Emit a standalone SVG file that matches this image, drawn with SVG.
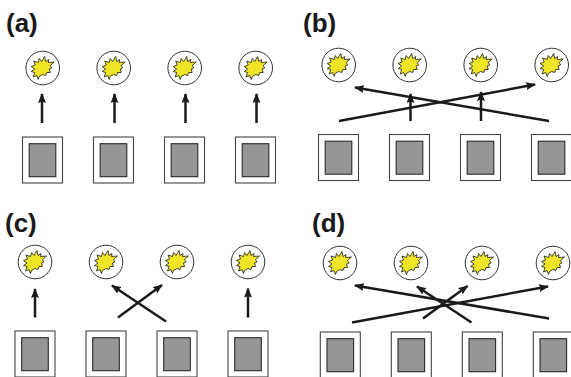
<svg xmlns="http://www.w3.org/2000/svg" xmlns:xlink="http://www.w3.org/1999/xlink" width="571" height="377" viewBox="0 0 571 377">
<style>
.lbl{font-family:"Liberation Sans",Arial,sans-serif;font-weight:bold;font-size:26px;fill:#1a1a1a}
.ring{fill:#fff;stroke:#333;stroke-width:1}
.star{fill:#efe426;stroke:#1a1a1a;stroke-width:.8;stroke-linejoin:miter}
.outer{fill:#fff;stroke:#444;stroke-width:1.1}
.inner{fill:#969696;stroke:#2a2a2a;stroke-width:1.1}
.c line{stroke:#1a1a1a;stroke-width:2.5;marker-end:url(#ah)}
</style>
<defs>
<marker id="ah" viewBox="0 0 10 8" refX="9" refY="4" markerUnits="userSpaceOnUse" markerWidth="10" markerHeight="8" orient="auto"><path d="M0 0L10 4L0 8L1.5 4Z" fill="#1a1a1a"/></marker>
<g id="bulb"><circle class="ring" r="16.8"/><path class="star" d="M-11.5 -1.5L-7.5 -3L-9 -7L-4.5 -5.5L-3.5 -9.5L-1 -6.5L2 -11.5L3 -6.5L6 -8.5L5.5 -5.5L11.5 -6L7.5 -2.5L9 0L6.5 1L7.5 4.5L4 4.5L3 7.5L0 6.5L-3.5 8.5L-4.5 11.5L-6 7.5L-9.5 9L-8 4.5L-11.5 3.5L-8 1Z"/></g>
<g id="box"><rect class="outer" x="-20" y="0" width="40" height="46"/><rect class="inner" x="-13.3" y="6.7" width="26.6" height="33"/></g>
</defs>
<g id="labels">
<text class="lbl" x="6" y="32">(a)</text>
<text class="lbl" x="303" y="32">(b)</text>
<text class="lbl" x="5" y="232">(c)</text>
<text class="lbl" x="312" y="232">(d)</text>
</g>
<g id="a1"><use xlink:href="#bulb" href="#bulb" x="42.7" y="68"/><use xlink:href="#box" href="#box" x="42.5" y="137"/></g>
<g id="a2"><use xlink:href="#bulb" href="#bulb" x="113.7" y="68"/><use xlink:href="#box" href="#box" x="113.5" y="137"/></g>
<g id="a3"><use xlink:href="#bulb" href="#bulb" x="184.7" y="68"/><use xlink:href="#box" href="#box" x="184.5" y="137"/></g>
<g id="a4"><use xlink:href="#bulb" href="#bulb" x="255.7" y="68"/><use xlink:href="#box" href="#box" x="255.5" y="137"/></g>
<g id="b1"><use xlink:href="#bulb" href="#bulb" x="338.7" y="65"/><use xlink:href="#box" href="#box" x="338.5" y="134.5"/></g>
<g id="b2"><use xlink:href="#bulb" href="#bulb" x="409.7" y="65"/><use xlink:href="#box" href="#box" x="409.5" y="134.5"/></g>
<g id="b3"><use xlink:href="#bulb" href="#bulb" x="480.7" y="65"/><use xlink:href="#box" href="#box" x="480.5" y="134.5"/></g>
<g id="b4"><use xlink:href="#bulb" href="#bulb" x="551.7" y="65"/><use xlink:href="#box" href="#box" x="551.5" y="134.5"/></g>
<g id="c1"><use xlink:href="#bulb" href="#bulb" x="35" y="262"/><use xlink:href="#box" href="#box" x="35" y="331"/></g>
<g id="c2"><use xlink:href="#bulb" href="#bulb" x="106" y="262"/><use xlink:href="#box" href="#box" x="106" y="331"/></g>
<g id="c3"><use xlink:href="#bulb" href="#bulb" x="177" y="262"/><use xlink:href="#box" href="#box" x="177" y="331"/></g>
<g id="c4"><use xlink:href="#bulb" href="#bulb" x="248" y="262"/><use xlink:href="#box" href="#box" x="248" y="331"/></g>
<g id="d1"><use xlink:href="#bulb" href="#bulb" x="340" y="263"/><use xlink:href="#box" href="#box" x="340.3" y="332"/></g>
<g id="d2"><use xlink:href="#bulb" href="#bulb" x="411" y="263"/><use xlink:href="#box" href="#box" x="411.3" y="332"/></g>
<g id="d3"><use xlink:href="#bulb" href="#bulb" x="482" y="263"/><use xlink:href="#box" href="#box" x="482.3" y="332"/></g>
<g id="d4"><use xlink:href="#bulb" href="#bulb" x="553" y="263"/><use xlink:href="#box" href="#box" x="553.3" y="332"/></g>
<g id="connectors" class="c">
<line x1="42" y1="123" x2="42" y2="94"/><line x1="114.5" y1="123" x2="114.5" y2="94"/><line x1="185.5" y1="123" x2="185.5" y2="94"/><line x1="256.5" y1="123" x2="256.5" y2="94"/>
<line x1="339" y1="121" x2="535" y2="84.5"/><line x1="549" y1="121" x2="355" y2="87.5"/><line x1="410.5" y1="121" x2="410.5" y2="94"/><line x1="481" y1="121" x2="481" y2="92"/>
<line x1="35" y1="317.5" x2="35" y2="289"/><line x1="118" y1="317.5" x2="162" y2="285"/><line x1="166" y1="321.5" x2="112" y2="285.5"/><line x1="248" y1="317.5" x2="248" y2="288.5"/>
<line x1="352" y1="322.5" x2="548" y2="286.5"/><line x1="549" y1="318.5" x2="355" y2="285.5"/><line x1="423" y1="318.5" x2="467.5" y2="286"/><line x1="471.5" y1="322.5" x2="417" y2="286.5"/>
</g>
</svg>
